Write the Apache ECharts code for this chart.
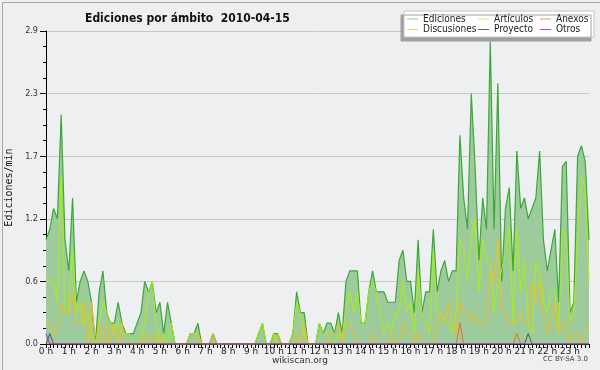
<!DOCTYPE html>
<html><head><meta charset="utf-8">
<script src="https://cdn.jsdelivr.net/npm/echarts@6/dist/echarts.min.js"></script>
<style>html,body{margin:0;padding:0;background:#eeeff1}#c{width:600px;height:370px}</style>
</head><body><div id="c"></div>
<script>
// 10-minute slots, 0:00 .. 23:50
const hourLabels = ['0 h','1 h','2 h','3 h','4 h','5 h','6 h','7 h','8 h','9 h','10 h','11 h','12 h','13 h','14 h','15 h','16 h','17 h','18 h','19 h','20 h','21 h','22 h','23 h'];
const slotMinutes = ['00','10','20','30','40','50'];
const yTickLabels = ['0.0','0.6','1.2','1.7','2.3','2.9'];

const ediciones = [
1.0,1.1,1.3,1.2,2.2,1.0,0.7,1.4,0.4,0.6,0.7,0.6,
0.4,0.0,0.5,0.7,0.3,0.2,0.2,0.4,0.2,0.1,0.1,0.1,
0.2,0.3,0.6,0.5,0.6,0.3,0.4,0.1,0.4,0.2,0,0,
0,0,0.1,0.1,0.2,0,0,0,0.1,0,0,0,
0,0,0,0,0,0,0,0,0.1,0.2,0,0,
0.1,0.1,0,0,0,0.1,0.5,0.3,0.3,0,0,0,
0.2,0.1,0.2,0.2,0.1,0.3,0.1,0.6,0.7,0.7,0.7,0.2,
0.2,0.5,0.7,0.5,0.5,0.5,0.4,0.4,0.4,0.8,0.9,0.6,
0.6,0.3,1.0,0.3,0.5,0.5,1.1,0.5,0.7,0.8,0.6,0.7,
0.7,2.0,1.4,1.1,2.4,1.7,0.8,1.4,1.1,2.9,1.1,2.5,
0.6,1.3,1.5,0.7,1.85,1.3,1.4,1.2,1.3,1.4,1.85,1.0,
0.7,0.9,1.1,0.4,1.7,1.75,0.3,0.4,1.8,1.9,1.75,1.0];

const articulos = [
0.6,0.6,0.6,0.4,1.6,0.3,0.3,0.9,0.3,0.4,0.2,0.3,
0.1,0,0.2,0.4,0.3,0.2,0.1,0.2,0.1,0.1,0.1,0,
0,0.1,0.2,0.5,0.6,0.2,0,0.1,0,0.2,0,0,
0,0,0.1,0.1,0.1,0,0,0,0,0,0,0,
0,0,0,0,0,0,0,0,0.1,0.2,0,0,
0.1,0,0,0,0,0.1,0.4,0.3,0.1,0,0,0,
0.2,0.1,0.1,0,0,0.1,0.1,0.3,0.5,0.3,0.5,0.2,
0.2,0.5,0.6,0.5,0.3,0.1,0.2,0.1,0.3,0.3,0.6,0.3,
0.4,0.1,0.7,0.3,0.2,0.1,0.9,0.3,0.3,0.2,0.2,0.1,
0.3,1.0,0.9,0.6,1.0,1.2,0.5,1.0,0.8,0.8,0.3,0.6,
0.7,0.9,1.1,0.2,1.1,0.5,0.8,0.2,0.1,0.8,0.7,0.4,
0.3,0.5,0.5,0.1,1.1,1.0,0.2,0.3,1.0,1.6,1.5,0.6];

const discusiones = [
0.2,0.2,0.1,0.1,0.4,0.3,0.3,0.5,0.2,0.2,0.4,0,
0.4,0,0.2,0,0.2,0,0.2,0,0.2,0,0,0,
0,0,0.1,0,0.1,0,0.1,0,0,0,0,0,
0,0,0,0,0.1,0,0,0,0.1,0,0,0,
0,0,0,0,0,0,0,0,0,0,0,0,
0,0.1,0,0,0,0,0.1,0,0.2,0,0,0,
0,0,0,0.1,0.1,0.2,0,0.2,0.2,0.1,0,0,
0,0,0.1,0,0,0,0,0.1,0,0,0.2,0.1,
0.1,0,0.1,0,0,0,0,0.2,0.3,0.2,0.4,0.2,
0.1,0.4,0.3,0.3,0.2,0.3,0.2,0.2,0.2,0.7,0.6,1.0,
0.3,0.3,0.2,0.2,0.2,0.3,0.2,0.2,0.6,0.4,0.6,0.3,
0.1,0.2,0.4,0.1,0.2,0.2,0,0.1,0.1,0,0.1,0.2];

const anexos = [
0,0,0,0,0,0,0,0,0,0,0,0, 0,0,0,0,0,0,0,0,0,0,0,0,
0,0,0,0,0,0,0,0,0,0,0,0, 0,0,0,0,0,0,0,0,0,0,0,0,
0,0,0,0,0,0,0,0,0,0,0,0, 0,0,0,0,0,0,0,0,0,0,0,0,
0,0,0,0,0,0,0,0,0,0,0,0, 0,0,0,0,0,0,0,0,0,0,0,0,
0,0,0,0,0,0,0,0,0,0,0,0, 0,0.2,0,0,0,0,0,0,0,0,0,0,
0,0,0,0,0.1,0,0,0,0,0,0,0, 0,0,0,0,0,0,0,0,0,0,0,0];

const proyecto = [
0,0.1,0,0,0,0,0,0,0,0,0,0, 0,0,0,0,0,0,0,0,0,0,0,0,
0,0,0,0,0,0,0,0,0,0,0,0, 0,0,0,0,0,0,0,0,0,0,0,0,
0,0,0,0,0,0,0,0,0,0,0,0, 0,0,0,0,0,0,0,0,0,0,0,0,
0,0,0,0,0,0,0,0,0,0,0,0, 0,0,0,0,0,0,0,0,0,0,0,0,
0,0,0,0,0,0,0,0,0,0,0,0, 0,0,0,0,0,0,0,0,0,0,0,0,
0,0,0,0,0,0,0,0.1,0,0,0,0, 0,0,0,0,0,0,0,0,0,0,0,0];

const otros = [
0.1,0,0,0,0,0,0,0,0,0,0,0, 0,0,0,0,0,0,0,0,0,0,0,0,
0,0,0,0,0,0,0,0,0,0,0,0, 0,0,0,0,0,0,0,0,0,0,0,0,
0,0,0,0,0,0,0,0,0,0,0,0, 0,0,0,0,0,0,0,0,0,0,0,0,
0,0,0,0,0,0,0,0,0,0,0,0, 0,0,0,0,0,0,0,0,0,0,0,0,
0,0,0,0,0,0,0,0,0,0,0,0, 0,0,0,0,0,0,0,0,0,0,0,0,
0,0,0,0,0,0,0,0,0,0,0,0, 0,0,0,0,0,0,0,0,0,0,0,0];

const categories = [];
hourLabels.forEach(h => slotMinutes.forEach(m => categories.push(h + m)));

const FONT = '"DejaVu Sans",sans-serif';
const CFONT = '"DejaVu Sans Condensed","DejaVu Sans",sans-serif';
const chart = echarts.init(document.getElementById('c'), null, {renderer: 'canvas'});

function lineSeries(name, data, color, z) {
  return {name, type: 'line', data, symbol: 'none', z,
    lineStyle: {color, width: 1}, itemStyle: {color}};
}
const legendText = {fontFamily: CFONT, fontSize: 10, color: '#222'};
function legendCol(items, left) {
  return {data: items.map(([name, color]) => ({name, itemStyle: {color}})),
    orient: 'vertical', left, top: 14, itemGap: 0.5, padding: 0,
    icon: 'rect', itemWidth: 11, itemHeight: 1, textStyle: legendText, z: 5};
}

chart.setOption({
  backgroundColor: '#eeeff1',
  animation: false,
  title: {
    text: 'Ediciones por ámbito  2010-04-15', left: 85, top: 13, padding: 0,
    textStyle: {fontFamily: CFONT, fontSize: 12, fontWeight: 'bold', color: '#111'}
  },
  graphic: [
    {type: 'rect', left: 0, top: 0, z: 100, silent: true,
      shape: {x: 0, y: 0, width: 599, height: 369},
      style: {fill: 'none', stroke: '#a8a8a8', lineWidth: 1}},
    {type: 'rect', z: 1, silent: true,
      shape: {x: 404, y: 11, width: 190, height: 26},
      style: {fill: '#ffffff', stroke: '#c4c4c4', lineWidth: 1,
        shadowColor: '#a0a0a0', shadowOffsetX: -3, shadowOffsetY: 4, shadowBlur: 0}},
    {type: 'text', left: 'center', top: 356, silent: true,
      style: {text: 'wikiscan.org', font: '9px ' + FONT, fill: '#333'}},
    {type: 'text', right: 12, top: 356, silent: true,
      style: {text: 'CC BY-SA 3.0', font: '7px ' + FONT, fill: '#444'}}
  ],
  legend: [
    legendCol([['Ediciones', '#8fd08f'], ['Discusiones', '#f5d25a']], 407),
    legendCol([['Artículos', '#cdf07a'], ['Proyecto', '#666666']], 478),
    legendCol([['Anexos', '#f0916a'], ['Otros', '#9a55e0']], 540)
  ],
  grid: {left: 46, right: 11, top: 31, bottom: 26, containLabel: false, outerBoundsMode: 'none'},
  xAxis: {
    type: 'category', data: categories, boundaryGap: false,
    axisLine: {lineStyle: {color: '#000', width: 1}},
    axisTick: {interval: 0, length: 4, lineStyle: {color: '#000'}},
    axisLabel: {interval: 5, formatter: v => v.replace(/\d\d$/, ''), fontFamily: FONT, fontSize: 9, color: '#222', margin: 3},
    splitLine: {show: false}
  },
  yAxis: {
    type: 'value', min: 0, max: 3.0, interval: 0.6,
    name: 'Ediciones/min', nameLocation: 'middle', nameGap: 27, nameRotate: 90,
    nameTextStyle: {fontFamily: '"DejaVu Sans Mono",monospace', fontSize: 10, color: '#111'},
    axisLine: {show: true, lineStyle: {color: '#000', width: 1}},
    axisTick: {show: true, length: 6, lineStyle: {color: '#000'}},
    minorTick: {show: true, splitNumber: 4, length: 3, lineStyle: {color: '#000'}},
    axisLabel: {formatter: (v, i) => yTickLabels[Math.round(v / 0.6)], fontFamily: CFONT, fontSize: 9, color: '#333', margin: 8},
    splitLine: {show: true, lineStyle: {color: '#c8c8c8', width: 1}}
  },
  series: [
    {name: 'Ediciones', type: 'line', data: ediciones, symbol: 'none', z: 2,
      lineStyle: {color: '#3aa83a', width: 1.2}, itemStyle: {color: '#7cc47a'},
      areaStyle: {color: '#9ecb9c', opacity: 1}},
    lineSeries('Artículos', articulos, '#aaee10', 3),
    lineSeries('Discusiones', discusiones, '#f2c018', 4),
    lineSeries('Anexos', anexos, '#ee6a2a', 5),
    lineSeries('Proyecto', proyecto, '#555555', 6),
    lineSeries('Otros', otros, '#8a3ee0', 7)
  ]
});
</script></body></html>
